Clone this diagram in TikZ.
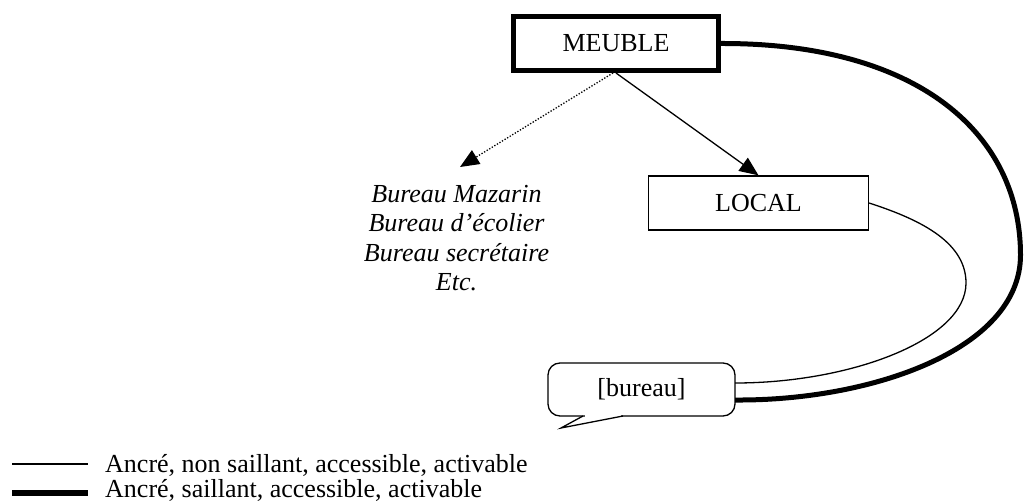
\documentclass[tikz,border=0pt]{standalone}
\usepackage{fontspec}
\setmainfont{Liberation Serif}
\usetikzlibrary{arrows.meta,calc}
\begin{document}
\begin{tikzpicture}[x=1pt,y=-1pt,
  txt/.style={font=\fontsize{26}{29.5}\selectfont},
  boxnode/.style={draw, rectangle, inner sep=0pt, txt},
  thin/.style={line width=1.3pt},
  thick/.style={line width=5pt},
  arr/.style={-{Triangle[length=19pt,width=16pt]}}]
\useasboundingbox (0,0) rectangle (1024,502);
% nodes
\node[boxnode, thick, minimum width=205pt, minimum height=54pt] (meuble) at (616,43.5) {MEUBLE};
\node[boxnode, thin, minimum width=220pt, minimum height=54pt] (local) at (758.5,203) {LOCAL};
\node[txt, font=\fontsize{26}{29.5}\selectfont\itshape, align=center, anchor=north, inner sep=0pt] (items) at (456.5,185)
  {Bureau Mazarin\\Bureau d’écolier\\Bureau secrétaire\\Etc.};
% speech bubble
\draw[thin, fill=white, rounded corners=12pt] (548,363) rectangle (735,416);
\fill[white] (585,413) rectangle (621,418);
\draw[thin, line join=miter] (583,416) -- (561,428) -- (623,416);
\node[txt, inner sep=0pt, minimum width=187pt, minimum height=53pt] (bureau) at (641.5,389.5) {[bureau]};
% connectors
\coordinate (tipd) at (460,167);
\draw[thin, arr] (meuble.south) -- (local.north);
\draw[thin, arr, dash pattern=on 1.3pt off 1.7pt] ([xshift=-3pt]meuble.south) -- (tipd);
\draw[thick] (meuble.east) .. controls (920,43) and (1020.5,135) .. (1020.5,255)
  .. controls (1020.5,350) and (870,401) .. ([yshift=-10.5pt]bureau.east);
\draw[thin] (local.east) .. controls (915,218) and (966,240) .. (966,283)
  .. controls (966,340) and (850,383) .. ([yshift=6.5pt]bureau.east);
% legend
\coordinate (l1a) at (12,464); \coordinate (l1b) at (88,464);
\coordinate (l2a) at (12,493); \coordinate (l2b) at (88,493);
\draw[thin] (l1a) -- (l1b);
\draw[line width=6pt] (l2a) -- (l2b);
\node[txt, anchor=base west, inner sep=0pt] (leg1) at (105,472) {Ancré, non saillant, accessible, activable};
\node[txt, anchor=base west, inner sep=0pt] (leg2) at (105,497.5) {Ancré, saillant, accessible, activable};
\end{tikzpicture}
\end{document}
